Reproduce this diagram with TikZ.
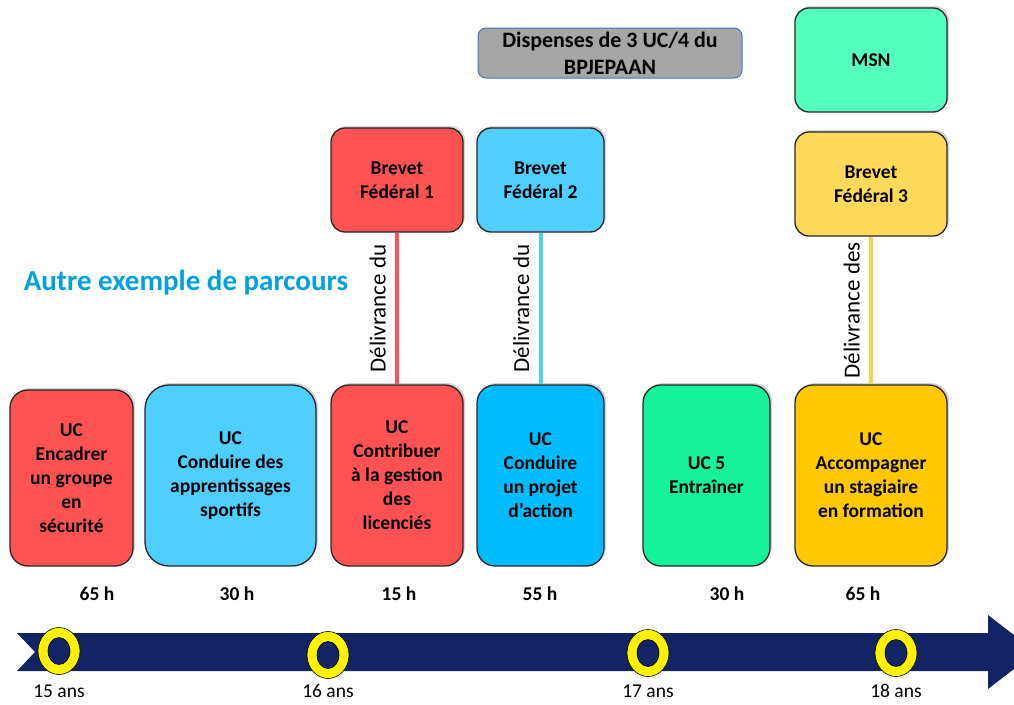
\documentclass[tikz,border=0pt]{standalone}
\usepackage{fontspec}
\setmainfont{Carlito}
\usetikzlibrary{shadows}
\definecolor{rouge}{RGB}{255,83,83}
\definecolor{ciel}{RGB}{79,207,255}
\definecolor{azur}{RGB}{0,188,255}
\definecolor{vert}{RGB}{20,242,155}
\definecolor{menthe}{RGB}{85,255,190}
\definecolor{jaune}{RGB}{255,217,90}
\definecolor{or}{RGB}{255,200,0}
\definecolor{gris}{RGB}{166,166,166}
\definecolor{bordbleu}{RGB}{68,114,196}
\definecolor{titre}{RGB}{0,160,225}
\definecolor{marine}{RGB}{18,36,100}
\newcommand\duree[3]{\node[hours](#1)at(#2,594){#3};}

\begin{document}
\begin{tikzpicture}[x=1pt,y=-1pt,font=\bfseries\fontsize{19.5}{24}\selectfont]
% Box styles: big UC boxes and small brevet boxes
\tikzstyle{box}=[rectangle,draw=black!85,line width=1.3,align=center,inner sep=2,
  drop shadow={opacity=0.35,shadow xshift=2,shadow yshift=-2}];
\tikzstyle{uc}=[box,rounded corners=18,minimum height=181];
\tikzstyle{bf}=[box,rounded corners=14,minimum height=104];
\tikzstyle{hours}=[];
\tikzstyle{age}=[font=\mdseries\fontsize{19.5}{24}\selectfont];
\tikzstyle{deliv}=[sloped,above=6,font=\mdseries\fontsize{23}{28}\selectfont];
\tikzstyle{ring}=[draw=black,line width=0.6];
\useasboundingbox (0,0) rectangle (1014,704);
\clip (0,0) rectangle (1014,704);
% The UC boxes
\node(uc1)[uc,fill=rouge,minimum width=123,minimum height=176]at(71.5,478)
  {UC\\Encadrer\\un groupe\\en\\sécurité};
\node(uc2)[uc,fill=ciel,minimum width=171,rounded corners=24]at(230.5,475.5)
  {UC\\Conduire des\\apprentissages\\sportifs};
\node(uc3)[uc,fill=rouge,minimum width=132]at(397,475.5)
  {UC\\Contribuer\\à la gestion\\des\\licenciés};
\node(uc4)[uc,fill=azur,minimum width=127]at(540.5,475.5)
  {UC\\Conduire\\un projet\\d’action};
\node(uc5)[uc,fill=vert,minimum width=127]at(706.5,475.5)
  {UC 5\\Entraîner};
\node(uc6)[uc,fill=or,minimum width=152]at(871,475.5)
  {UC\\Accompagner\\un stagiaire\\en formation};
% The brevets
\node(bf1)[bf,fill=rouge,minimum width=132]at(397,180){Brevet\\Fédéral 1};
\node(bf2)[bf,fill=ciel,minimum width=127]at(540.5,180){Brevet\\Fédéral 2};
\node(bf3)[bf,fill=jaune,minimum width=152]at(871,184){Brevet\\Fédéral 3};
\node(msn)[bf,fill=menthe,minimum width=152]at(871,60){MSN};
\node(disp)[rectangle,draw=bordbleu,fill=gris,rounded corners=8,line width=1,
  minimum width=264,minimum height=50,align=center,
  font=\bfseries\fontsize{22}{27}\selectfont]at(610,53)
  {Dispenses de 3 UC/4 du\\BPJEPAAN};
% delivery links
\draw[rouge,line width=4](uc3.north)--node[deliv,black]{Délivrance du}(bf1.south);
\draw[ciel,line width=4](uc4.north)--node[deliv,black]{Délivrance du}(bf2.south);
\draw[jaune!90!orange,line width=4](uc6.north)--node[deliv,black]{Délivrance des}(bf3.south);
\node(titre)[text=titre,font=\bfseries\fontsize{29}{34}\selectfont]at(186,283)
  {Autre exemple de parcours};
% hours
\duree{h1}{97}{65 h}
\duree{h2}{237}{30 h}
\duree{h3}{399}{15 h}
\duree{h4}{540}{55 h}
\duree{h5}{727}{30 h}
\duree{h6}{863}{65 h}
% the time arrow
\fill[marine](17,633)--(988,633)--(988,615)--(1036,652)--(988,689)--(988,671)
  --(17,671)--(35,652)--cycle;
\foreach \x/\y/\a in {59/651/15,328/655/16,648/653/17,896/653/18}{
  \draw[ring,fill=yellow](\x,\y)ellipse[x radius=21,y radius=23.5];
  \draw[ring,fill=marine](\x,\y)ellipse[x radius=11,y radius=13.5];
  \node(a\a)[age]at(\x,691){\a~ans};
}
\end{tikzpicture}
\end{document}
